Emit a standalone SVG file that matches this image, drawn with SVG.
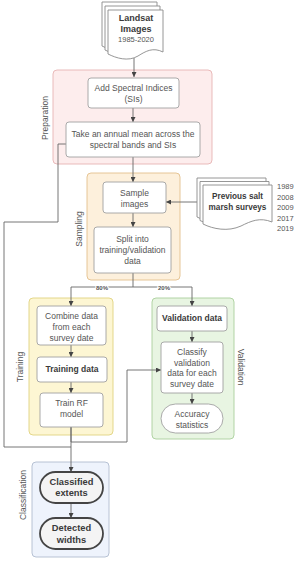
<svg xmlns="http://www.w3.org/2000/svg" width="300" height="561" viewBox="0 0 300 561">
<defs>
<marker id="ah" viewBox="0 0 6 6" refX="6" refY="3" markerWidth="5" markerHeight="5" markerUnits="userSpaceOnUse" orient="auto">
<path d="M0,0 L6,3 L0,6 Z" fill="#444"/>
</marker>
<style>
text{font-family:"Liberation Sans",Arial,sans-serif;font-size:8.5px;fill:#555;text-anchor:middle}
.b{font-weight:bold;fill:#3a3a3a}
.box{fill:#fff;stroke:#a0a0a0;stroke-width:0.9}
.doc{fill:#fff;stroke:#8a8a8a;stroke-width:0.9}
.term{fill:#f4f4f4;stroke:#444;stroke-width:1.8}
.c{fill:none;stroke:#666;stroke-width:0.9}
.lbl{font-size:6px;font-weight:bold;fill:#555;stroke:#fff;stroke-width:2;paint-order:stroke}
.yr{font-size:7.5px;text-anchor:start;fill:#555}
</style>
</defs>

<!-- containers -->
<g id="preparation">
<rect x="53" y="70" width="159" height="94" rx="4" fill="#fdeded" stroke="#e6b3b3" stroke-width="0.9"/>
<text transform="translate(45,118) rotate(-90)" dy="3">Preparation</text>
</g>
<g id="sampling">
<rect x="87" y="173" width="93" height="107" rx="4" fill="#fdf0dc" stroke="#e3c08c" stroke-width="0.9"/>
<text transform="translate(79,229) rotate(-90)" dy="3">Sampling</text>
</g>
<g id="training">
<rect x="29" y="298" width="84" height="137" rx="4" fill="#fdf6d3" stroke="#e0d27f" stroke-width="0.9"/>
<text transform="translate(20,367) rotate(-90)" dy="3">Training</text>
</g>
<g id="validation">
<rect x="152" y="298" width="82" height="141" rx="4" fill="#e8f5e2" stroke="#aacf9c" stroke-width="0.9"/>
<text transform="translate(241,367) rotate(90)" dy="3">Validation</text>
</g>
<g id="classification">
<rect x="32" y="462" width="77" height="95" rx="4" fill="#eef3fc" stroke="#b0bccf" stroke-width="0.9"/>
<text transform="translate(23,495) rotate(-90)" dy="3">Classification</text>
</g>

<!-- connectors -->
<g id="connectors">
<path class="c" d="M134,58 V77" marker-end="url(#ah)"/>
<path class="c" d="M133,108 V122" marker-end="url(#ah)"/>
<path class="c" d="M133,157 V182" marker-end="url(#ah)"/>
<path class="c" d="M133,213 V227" marker-end="url(#ah)"/>
<path class="c" d="M202,202 H166" marker-end="url(#ah)"/>
<path class="c" d="M133,273 V287 H71 V306" marker-end="url(#ah)"/>
<path class="c" d="M133,287 H192 V306" marker-end="url(#ah)"/>
<path class="c" d="M71,345 V357" marker-end="url(#ah)"/>
<path class="c" d="M71,382 V393" marker-end="url(#ah)"/>
<path class="c" d="M71,427 V442 H127 V370 H161" marker-end="url(#ah)"/>
<path class="c" d="M71,427 V472" marker-end="url(#ah)"/>
<path class="c" d="M66,144 H58 V222 H4 V447 H71"/>
<path class="c" d="M192,331 V342" marker-end="url(#ah)"/>
<path class="c" d="M192,393 V404" marker-end="url(#ah)"/>
<path class="c" d="M71,503 V518" marker-end="url(#ah)"/>
<text class="lbl" x="102" y="290">80%</text>
<text class="lbl" x="164" y="290">20%</text>
</g>

<!-- nodes -->
<g id="landsat">
<path class="doc" transform="translate(102,2)" d="M0,0 H55 V42 C45,37 38,41 30,46 C20,52 8,48 0,44 Z"/>
<path class="doc" transform="translate(105,6)" d="M0,0 H55 V42 C45,37 38,41 30,46 C20,52 8,48 0,44 Z"/>
<path class="doc" transform="translate(108,10)" d="M0,0 H55 V42 C45,37 38,41 30,46 C20,52 8,48 0,44 Z"/>
<text class="b" x="136" y="21" style="font-size:9px">Landsat</text>
<text class="b" x="136" y="32" style="font-size:9px">Images</text>
<text x="136" y="42" style="font-size:7.5px">1985-2020</text>
</g>
<g id="add-si">
<rect class="box" x="88" y="78" width="91" height="30" rx="3"/>
<text x="133.5" y="91">Add Spectral Indices</text>
<text x="133.5" y="102">(SIs)</text>
</g>
<g id="annual-mean">
<rect class="box" x="66" y="122" width="134" height="35" rx="3"/>
<text x="133" y="137">Take an annual mean across the</text>
<text x="133" y="148">spectral bands and SIs</text>
</g>
<g id="sample-images">
<rect class="box" x="103" y="182" width="63" height="31" rx="3"/>
<text x="134.5" y="196">Sample</text>
<text x="134.5" y="207">images</text>
</g>
<g id="split">
<rect class="box" x="94" y="227" width="77" height="46" rx="3"/>
<text x="132.5" y="242">Split into</text>
<text x="132.5" y="253">training/validation</text>
<text x="132.5" y="264">data</text>
</g>
<g id="surveys">
<path class="doc" transform="translate(197,178)" d="M0,0 H69 V37 C57,32 48,36 38,41 C25,47 10,44 0,39 Z"/>
<path class="doc" transform="translate(200,181.5)" d="M0,0 H69 V37 C57,32 48,36 38,41 C25,47 10,44 0,39 Z"/>
<path class="doc" transform="translate(203,185)" d="M0,0 H69 V37 C57,32 48,36 38,41 C25,47 10,44 0,39 Z"/>
<text class="b" x="237.5" y="199" style="font-size:8.2px">Previous salt</text>
<text class="b" x="237.5" y="210" style="font-size:8.2px">marsh surveys</text>
<text class="yr" x="277" y="189">1989</text>
<text class="yr" x="277" y="199.5">2008</text>
<text class="yr" x="277" y="210">2009</text>
<text class="yr" x="277" y="220.5">2017</text>
<text class="yr" x="277" y="231">2019</text>
</g>
<g id="combine">
<rect class="box" x="37" y="306" width="69" height="39" rx="3"/>
<text x="71.5" y="319">Combine data</text>
<text x="71.5" y="330">from each</text>
<text x="71.5" y="341">survey date</text>
</g>
<g id="training-data">
<rect class="box" x="37" y="357" width="70" height="25" rx="3"/>
<text class="b" x="72" y="372">Training data</text>
</g>
<g id="train-rf">
<rect class="box" x="40" y="393" width="63" height="34" rx="3"/>
<text x="71.5" y="406">Train RF</text>
<text x="71.5" y="417">model</text>
</g>
<g id="validation-data">
<rect class="box" x="157" y="306" width="70" height="25" rx="3"/>
<text class="b" x="192" y="321">Validation data</text>
</g>
<g id="classify">
<rect class="box" x="161" y="342" width="62" height="51" rx="3"/>
<text x="192" y="355">Classify</text>
<text x="192" y="365.5">validation</text>
<text x="192" y="376">data for each</text>
<text x="192" y="386.5">survey date</text>
</g>
<g id="accuracy">
<rect class="box" x="161" y="404" width="62" height="29" rx="14.5"/>
<text x="192" y="417">Accuracy</text>
<text x="192" y="427.5">statistics</text>
</g>
<g id="classified-extents">
<rect class="term" x="40" y="472" width="63" height="31" rx="15.5"/>
<text class="b" x="71.5" y="485" style="font-size:9.3px">Classified</text>
<text class="b" x="71.5" y="496" style="font-size:9.3px">extents</text>
</g>
<g id="detected-widths">
<rect class="term" x="40" y="518" width="63" height="31" rx="15.5"/>
<text class="b" x="71.5" y="531" style="font-size:9.3px">Detected</text>
<text class="b" x="71.5" y="542.5" style="font-size:9.3px">widths</text>
</g>
</svg>
